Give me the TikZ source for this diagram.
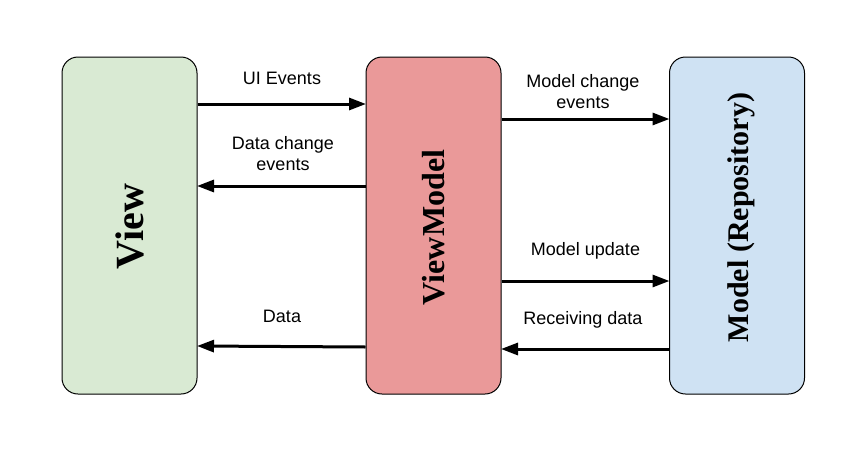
\documentclass[tikz,border=0pt]{standalone}
\usepackage{fontspec}
\setmainfont{Liberation Serif}
\setsansfont{Liberation Sans}
\usetikzlibrary{arrows.meta}
\definecolor{viewgreen}{HTML}{D9EAD3}
\definecolor{vmred}{HTML}{EA9999}
\definecolor{modelblue}{HTML}{CFE2F3}
\tikzset{
  box/.style={draw=black, line width=1pt, rounded corners=16pt, minimum width=135pt, minimum height=337pt, inner sep=0pt},
  boxlabel/.style={rotate=90, font=\bfseries\fontsize{#1}{#1}\selectfont, inner sep=0pt},
  arr/.style={line width=3pt, -{Triangle[length=17pt,width=12pt]}, shorten >=-0.5pt},
  lbl/.style={font=\sffamily\fontsize{18}{21}\selectfont, align=center, inner sep=0pt}
}
\begin{document}
\begin{tikzpicture}[x=1pt,y=-1pt]
\useasboundingbox[fill=white] (0,0) rectangle (865,450);
\node[box, fill=viewgreen] (view) at (129.5,225.5) {};
\node[box, fill=vmred] (vm) at (433.5,225.5) {};
\node[box, fill=modelblue] (model) at (737,225.5) {};
\node[boxlabel=40] (viewt) at (130,226.5) {View};
\node[boxlabel=32] (vmt) at (434,227.5) {ViewModel};
\node[boxlabel=30] (modelt) at (741,217.5) {Model (Repository)};
% arrows
\draw[arr] (view.east |- 0,104) -- (vm.west |- 0,104);
\draw[arr] (vm.west |- 0,186) -- (view.east |- 0,186);
\draw[arr] (vm.west |- 0,347) -- (view.east |- 0,346);
\draw[arr] (vm.east |- 0,119) -- (model.west |- 0,119);
\draw[arr] (vm.east |- 0,281) -- (model.west |- 0,281);
\draw[arr] (model.west |- 0,349) -- (vm.east |- 0,349);
% labels
\node[lbl] (l1) at (282,78) {UI Events};
\node[lbl] (l2) at (283,154) {Data change\\events};
\node[lbl] (l3) at (282,316.5) {Data};
\node[lbl] (l4) at (583,92) {Model change\\events};
\node[lbl] (l5) at (585.5,251) {Model update};
\node[lbl] (l6) at (583,320) {Receiving data};
\end{tikzpicture}
\end{document}
